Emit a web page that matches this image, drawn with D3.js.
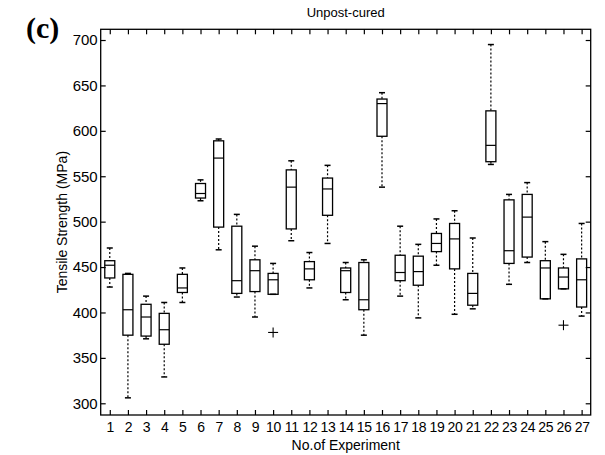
<!DOCTYPE html>
<html><head><meta charset="utf-8">
<script src="https://cdn.jsdelivr.net/npm/d3@7"></script>
<style>body{margin:0;background:#fff}svg{display:block}</style>
</head><body>
<svg id="c" width="605" height="455"></svg>
<script>
const experiments = d3.range(1, 28);
const whiskerHigh = [471,443,418,411,449,546,591,508,473,454,567,466,562,455,458,642,495,475,503,512,482,695,530,543,478,464,498];
const q3          = [457,442,409,399,442,542,589,495,458,443,557,456,548,449,455,635,463,462,487,498,443,622,524,530,457,449,459];
const medians     = [452,403,395,381,427,531,570,435,446,436,538,448,536,446,414,630,444,445,476,481,421,584,468,505,449,439,436];
const q1          = [438,375,374,365,422,526,494,421,423,420,492,436,507,422,403,594,435,430,467,448,408,566,454,461,415,426,406];
const whiskerLow  = [428,306,371,329,411,523,469,417,395,420,479,427,476,414,375,538,418,394,452,398,404,563,431,455,415,426,396];
const outliers    = [{x:10, v:378}, {x:26, v:386}];
const yTicks = [300,350,400,450,500,550,600,650,700];

const svg = d3.select("#c");
const L = 100.7, R = 590.7, T = 29.3, B = 415;
const x = d3.scaleLinear().domain([0.5, 27.5]).range([L, R]);
const y = d3.scaleLinear().domain([287.1, 711.8]).range([B, T]);
const font = "'Liberation Sans', Arial, sans-serif";

// frame
svg.append("rect").attr("x", L).attr("y", T).attr("width", R - L).attr("height", B - T)
  .attr("fill", "none").attr("stroke", "#000").attr("stroke-width", 1.3);

// axes with inward ticks
const gx = svg.append("g").attr("transform", `translate(0,${B})`)
  .call(d3.axisBottom(x).tickValues(experiments).tickSizeInner(-5).tickSizeOuter(0).tickPadding(7));
const gxt = svg.append("g").attr("transform", `translate(0,${T})`)
  .call(d3.axisTop(x).tickValues(experiments).tickSizeInner(-5).tickSizeOuter(0).tickFormat(""));
const gy = svg.append("g").attr("transform", `translate(${L},0)`)
  .call(d3.axisLeft(y).tickValues(yTicks).tickSizeInner(-5).tickSizeOuter(0).tickPadding(4));
const gyr = svg.append("g").attr("transform", `translate(${R},0)`)
  .call(d3.axisRight(y).tickValues(yTicks).tickSizeInner(-5).tickSizeOuter(0).tickFormat(""));
[gx, gxt, gy, gyr].forEach(g => {
  g.select(".domain").remove();
  g.selectAll("line").attr("stroke", "#000").attr("stroke-width", 1.2);
  g.selectAll("text").attr("font-family", font).attr("font-size", 15).attr("fill", "#000");
});
gx.selectAll("text").attr("font-size", 14).attr("letter-spacing", -0.3);
gy.selectAll("text").attr("x", -3);

const bw = 10, cap = 4;
const data = experiments.map((e, i) => ({e, hi: whiskerHigh[i], q3: q3[i], med: medians[i], q1: q1[i], lo: whiskerLow[i]}));
const g = svg.append("g");
const box = g.selectAll("g.box").data(data).join("g").attr("class", "box");
// whiskers
box.append("line").attr("x1", d => x(d.e)).attr("x2", d => x(d.e))
  .attr("y1", d => y(d.hi)).attr("y2", d => y(d.q3))
  .attr("stroke", "#000").attr("stroke-width", 1.2).attr("stroke-dasharray", "2,2");
box.append("line").attr("x1", d => x(d.e)).attr("x2", d => x(d.e))
  .attr("y1", d => y(d.q1)).attr("y2", d => y(d.lo))
  .attr("stroke", "#000").attr("stroke-width", 1.2).attr("stroke-dasharray", "2,2");
// caps
box.append("line").attr("x1", d => x(d.e) - cap/2 - 1).attr("x2", d => x(d.e) + cap/2 + 1)
  .attr("y1", d => y(d.hi)).attr("y2", d => y(d.hi)).attr("stroke", "#000").attr("stroke-width", 1.5);
box.append("line").attr("x1", d => x(d.e) - cap/2 - 1).attr("x2", d => x(d.e) + cap/2 + 1)
  .attr("y1", d => y(d.lo)).attr("y2", d => y(d.lo)).attr("stroke", "#000").attr("stroke-width", 1.5);
// boxes
box.append("rect").attr("x", d => x(d.e) - bw/2).attr("width", bw)
  .attr("y", d => y(d.q3)).attr("height", d => y(d.q1) - y(d.q3))
  .attr("fill", "none").attr("stroke", "#000").attr("stroke-width", 1.3);
box.append("line").attr("x1", d => x(d.e) - bw/2).attr("x2", d => x(d.e) + bw/2)
  .attr("y1", d => y(d.med)).attr("y2", d => y(d.med)).attr("stroke", "#000").attr("stroke-width", 1.2);

// outliers
const og = g.selectAll("g.out").data(outliers).join("g").attr("class", "out");
og.append("line").attr("x1", d => x(d.x) - 5).attr("x2", d => x(d.x) + 5)
  .attr("y1", d => y(d.v)).attr("y2", d => y(d.v)).attr("stroke", "#000").attr("stroke-width", 1.1);
og.append("line").attr("x1", d => x(d.x)).attr("x2", d => x(d.x))
  .attr("y1", d => y(d.v) - 5).attr("y2", d => y(d.v) + 5).attr("stroke", "#000").attr("stroke-width", 1.1);

// texts
svg.append("text").attr("x", (L + R) / 2).attr("y", 17).attr("text-anchor", "middle")
  .attr("font-family", font).attr("font-size", 13).text("Unpost-cured");
svg.append("text").attr("x", (L + R) / 2).attr("y", 450).attr("text-anchor", "middle")
  .attr("font-family", font).attr("font-size", 14).text("No.of Experiment");
svg.append("text").attr("transform", `translate(67,${(T + B) / 2}) rotate(-90)`).attr("text-anchor", "middle")
  .attr("font-family", font).attr("font-size", 14).text("Tensile Strength (MPa)");
svg.append("text").attr("x", 26).attr("y", 38)
  .attr("font-family", "'Liberation Serif', 'Times New Roman', serif").attr("font-weight", "bold")
  .attr("font-size", 30).text("(c)");
</script>
</body></html>
